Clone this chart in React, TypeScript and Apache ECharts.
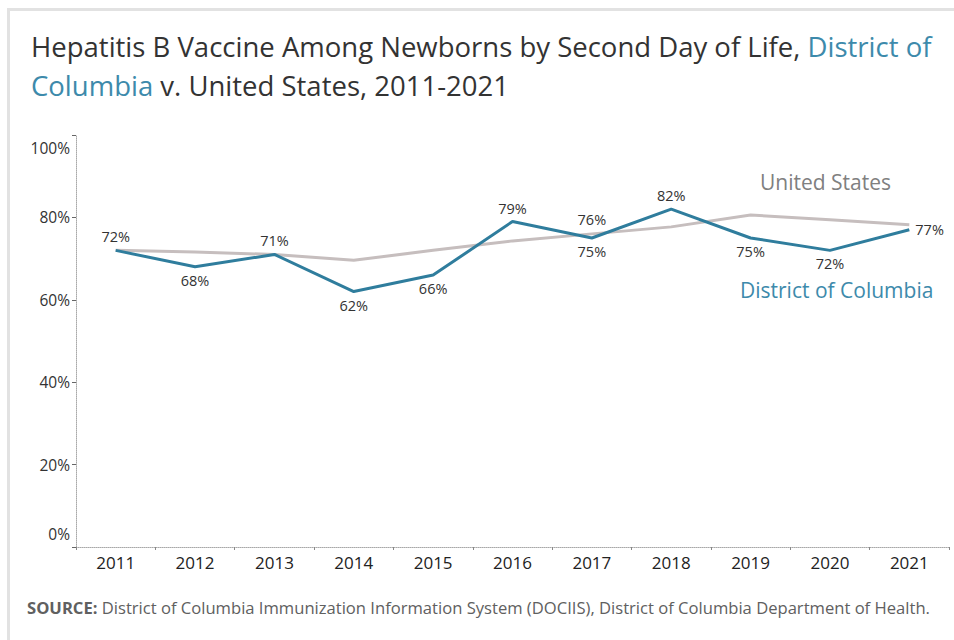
import React, { useEffect, useRef } from "react";
import * as echarts from "echarts";

// Hepatitis B birth-dose coverage by second day of life, 2011-2021
const years = ["2011", "2012", "2013", "2014", "2015", "2016", "2017", "2018", "2019", "2020", "2021"];
const dcValues = [72, 68, 71, 62, 66, 79, 75, 82, 75, 72, 77];
const usValues = [72, 71.6, 71, 69.6, 72, 74.3, 76, 77.7, 80.6, 79.4, 78.2];
// where each DC value label sits relative to its point
const dcLabelSide = ["top", "bottom", "top", "bottom", "bottom", "top", "bottom", "top", "bottom", "bottom", "right"];
// only one US point carries a value label
const usLabelIndex = 6;
const yTicks = [0, 20, 40, 60, 80, 100];

const DC_LINE = "#2f7d9d";
const DC_TEXT = "#3d8aab";
const US_LINE = "#c6bebe";
const FONT = "'Open Sans', 'Noto Sans', sans-serif";
const HIDDEN = "rgba(0,0,0,0)";

export default function App() {
  const ref = useRef<HTMLDivElement>(null);

  useEffect(() => {
    if (!ref.current) return;
    const chart = echarts.init(ref.current, null, { renderer: "svg" });

    const valueLabel = (v: number) => `${Math.round(v)}%`;

    const dcData = dcValues.map((v, i) => ({
      value: v,
      label: {
        show: true,
        position: dcLabelSide[i],
        distance: 5,
        formatter: valueLabel(v),
      },
    }));

    const usData = usValues.map((v, i) => ({
      value: v,
      label: {
        show: i === usLabelIndex,
        position: "top",
        distance: 6,
        formatter: valueLabel(v),
      },
    }));

    const labelStyle = { color: "#333333", fontSize: 14.5, fontFamily: FONT };

    chart.setOption({
      animation: false,
      backgroundColor: "#ffffff",
      textStyle: { fontFamily: FONT },
      title: {
        left: 26,
        top: 22,
        text:
          "{a|Hepatitis B Vaccine Among Newborns by Second Day of Life, }{b|District of}\n{b|Columbia}{a| v. United States, 2011-2021}",
        textStyle: {
          fontWeight: "normal",
          rich: {
            a: { fontFamily: FONT, fontSize: 27.5, fontWeight: "normal", color: "#333333", lineHeight: 39 },
            b: { fontFamily: FONT, fontSize: 27.5, fontWeight: "normal", color: DC_TEXT, lineHeight: 39 },
          },
        },
      },
      grid: { left: 76, right: 5, top: 135, bottom: 93, containLabel: false },
      xAxis: {
        type: "category",
        data: years,
        boundaryGap: true,
        axisLine: { show: true, lineStyle: { color: "#a8a8a8", type: "dotted", width: 1 } },
        axisTick: { show: true, length: 3, lineStyle: { color: "#888" } },
        axisLabel: { color: "#222222", fontSize: 17, margin: 7, fontFamily: FONT },
        splitLine: { show: false },
      },
      yAxis: {
        type: "value",
        min: yTicks[0],
        max: yTicks[yTicks.length - 1],
        interval: 20,
        axisLine: { show: true, lineStyle: { color: "#a8a8a8", type: "dotted", width: 1 } },
        axisTick: { show: true, length: 4, lineStyle: { color: "#666" } },
        axisLabel: {
          color: "#333333",
          fontSize: 15.5,
          lineHeight: 26,
          margin: 6,
          fontFamily: FONT,
          formatter: "{value}%",
          verticalAlignMaxLabel: "top",
          verticalAlignMinLabel: "bottom",
        },
        splitLine: { show: false },
      },
      series: [
        {
          name: "United States",
          type: "line",
          data: usData,
          symbol: "circle",
          symbolSize: 1,
          showSymbol: true,
          itemStyle: { color: HIDDEN, borderColor: HIDDEN },
          lineStyle: { color: US_LINE, width: 3 },
          label: labelStyle,
          z: 2,
        },
        {
          name: "District of Columbia",
          type: "line",
          data: dcData,
          symbol: "circle",
          symbolSize: 1,
          showSymbol: true,
          itemStyle: { color: HIDDEN, borderColor: HIDDEN },
          lineStyle: { color: DC_LINE, width: 3 },
          label: labelStyle,
          z: 3,
        },
      ],
      graphic: [
        {
          type: "rect",
          left: 6,
          top: 7,
          shape: { width: 960, height: 640 },
          style: { fill: "none", stroke: "#e2e2e2", lineWidth: 3 },
          silent: true,
        },
        {
          type: "text",
          left: 760,
          top: 171,
          style: { text: "United States", fill: "#808080", fontSize: 21, fontFamily: FONT },
        },
        {
          type: "text",
          left: 740,
          top: 279,
          style: { text: "District of Columbia", fill: DC_TEXT, fontSize: 21, fontFamily: FONT },
        },
        {
          type: "text",
          left: 27,
          top: 599,
          style: {
            text: "{b|SOURCE:} District of Columbia Immunization Information System (DOCIIS), District of Columbia Department of Health.",
            fontFamily: FONT,
            fontSize: 16.6,
            fill: "#606060",
            rich: {
              b: { fontWeight: "bold", fontSize: 16.6, fontFamily: FONT, fill: "#606060" },
            },
          },
        },
      ],
    });

    return () => chart.dispose();
  }, []);

  return <div ref={ref} style={{ width: 954, height: 640, position: "absolute", left: 0, top: 0 }} />;
}
